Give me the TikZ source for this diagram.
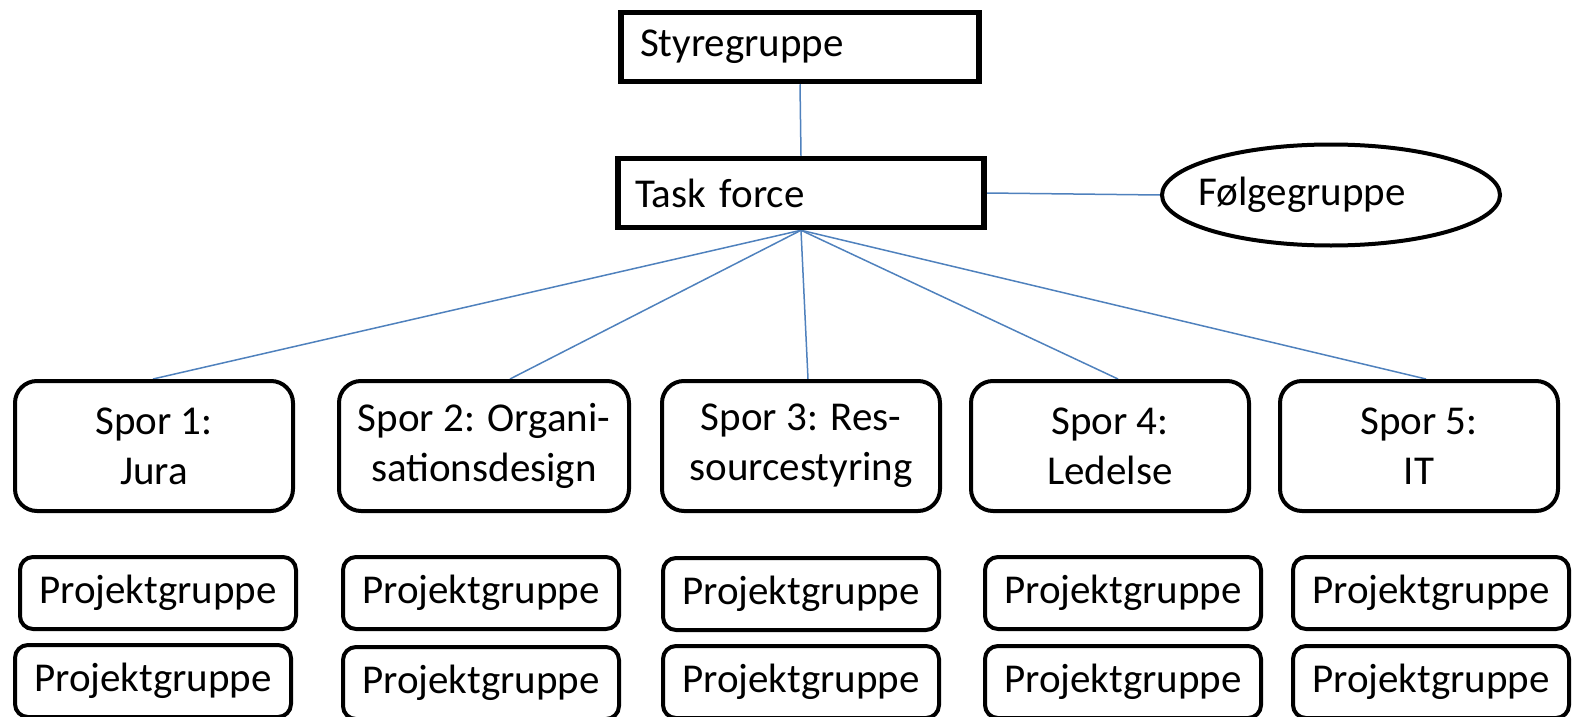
\documentclass[tikz,border=0pt]{standalone}
\usepackage{fontspec}
\setmainfont{Carlito}
\usetikzlibrary{shapes.geometric,calc,backgrounds}
\definecolor{linkblue}{RGB}{79,129,189}
\begin{document}
\begin{tikzpicture}[x=1pt, y=-1pt,
  every node/.style={font=\fontsize{41}{50}\selectfont},
  topbox/.style={draw, line width=5.5pt, minimum height=69pt, align=left},
  sporbox/.style={draw, line width=4pt, rounded corners=22pt, minimum width=278pt, minimum height=130pt, align=center},
  projbox/.style={draw, line width=4pt, rounded corners=13pt, minimum width=276pt, minimum height=72pt},
  link/.style={draw=linkblue, line width=1.5pt}]
  \useasboundingbox (0,0) rectangle (1574,717);
  \node[topbox, inner xsep=19pt, text width=320pt] (styre) at (800,47) {Styregruppe};
  \node[topbox, inner xsep=17pt, text width=332pt] (task) at (801,193) {Task force};
  \node[draw, ellipse, line width=4pt, minimum width=338pt, minimum height=101pt,
    label={[xshift=-29pt]center:Følgegruppe}] (folge) at (1331,195) {};
  \node[sporbox] (spor1) at (154,446) {Spor 1:\\Jura};
  \node[sporbox, minimum width=290pt] (spor2) at (484,446) {Spor 2: Organi-\\sationsdesign};
  \node[sporbox] (spor3) at (801,446) {Spor 3: Res-\\sourcestyring};
  \node[sporbox] (spor4) at (1110,446) {Spor 4:\\Ledelse};
  \node[sporbox] (spor5) at (1419,446) {Spor 5:\\IT};
  \node[projbox] (proj1a) at (158,593) {Projektgruppe};
  \node[projbox] (proj1b) at (153,681) {Projektgruppe};
  \node[projbox] (proj2a) at (481,593) {Projektgruppe};
  \node[projbox] (proj2b) at (481,683) {Projektgruppe};
  \node[projbox] (proj3a) at (801,594) {Projektgruppe};
  \node[projbox] (proj3b) at (801,682) {Projektgruppe};
  \node[projbox] (proj4a) at (1123,593) {Projektgruppe};
  \node[projbox] (proj4b) at (1123,682) {Projektgruppe};
  \node[projbox] (proj5a) at (1431,593) {Projektgruppe};
  \node[projbox] (proj5b) at (1431,682) {Projektgruppe};
  \begin{scope}[on background layer]
    \draw[link] (styre.south) -- (task.north);
    \draw[link] (task.east) -- (folge.west);
    \draw[link] (task.south) -- ($(spor1.north)+(-1,0)$);
    \draw[link] (task.south) -- ($(spor2.north)+(26,0)$);
    \draw[link] (task.south) -- ($(spor3.north)+(7,0)$);
    \draw[link] (task.south) -- ($(spor4.north)+(8,0)$);
    \draw[link] (task.south) -- ($(spor5.north)+(7,0)$);
  \end{scope}
\end{tikzpicture}
\end{document}
